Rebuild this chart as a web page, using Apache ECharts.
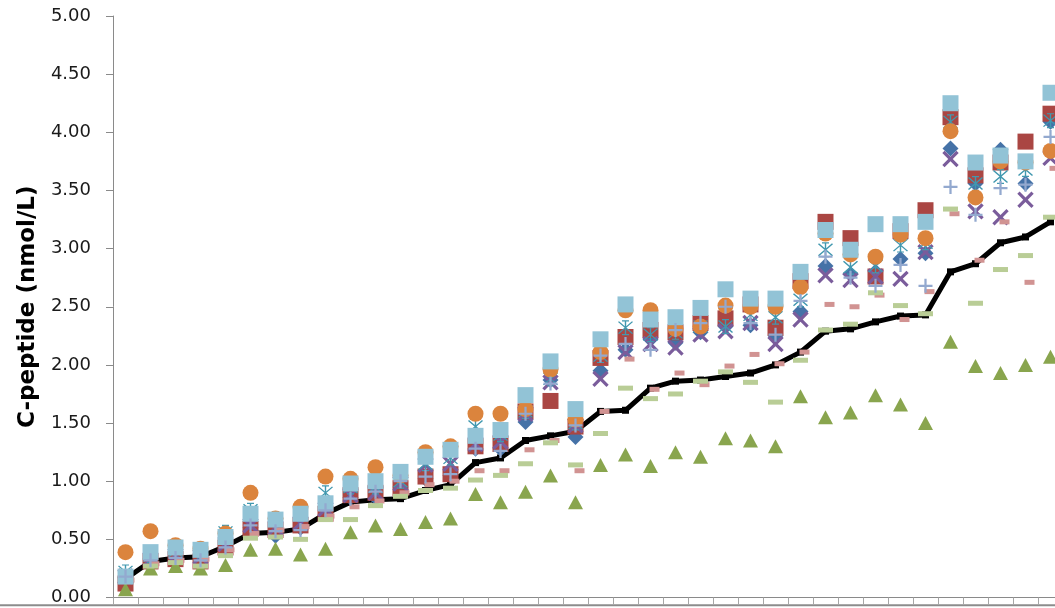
<!DOCTYPE html>
<html>
<head>
<meta charset="utf-8">
<script src="https://cdn.jsdelivr.net/npm/echarts@6/dist/echarts.min.js"></script>
<style>
html, body { margin: 0; padding: 0; background: #fff; overflow: hidden; }
#chart { width: 1063px; height: 608px; }
</style>
</head>
<body>
<div id="chart"></div>
<script>
// categories (x labels are not shown in the picture)
var cats = ['1', '2', '3', '4', '5', '6', '7', '8', '9', '10', '11', '12', '13', '14', '15', '16', '17', '18', '19',
	'20', '21', '22', '23', '24', '25', '26', '27', '28', '29', '30', '31', '32', '33', '34', '35', '36', '37', '38'];

// black line
var lineVals = [0.16, 0.31, 0.34, 0.35, 0.44, 0.55, 0.56, 0.59, 0.72, 0.82, 0.84, 0.85, 0.92, 0.97, 1.16, 1.20, 1.35, 1.39, 1.43,
	1.60, 1.61, 1.80, 1.86, 1.87, 1.90, 1.93, 2.00, 2.11, 2.29, 2.31, 2.37, 2.42, 2.43, 2.80, 2.87, 3.05, 3.10, 3.23];
var diamondVals = [0.17, 0.33, 0.35, 0.34, 0.44, 0.60, 0.53, 0.60, 0.75, 0.86, 0.86, 0.95, 1.02, 1.05, 1.28, 1.28, 1.51, 1.87, 1.38,
	1.95, 2.13, 2.22, 2.19, 2.28, 2.33, 2.34, 2.25, 2.46, 2.85, 2.78, 2.80, 2.91, 2.96, 3.86, 3.56, 3.85, 3.56, 4.09];
var redVals = [0.12, 0.31, 0.33, 0.31, 0.43, 0.59, 0.58, 0.62, 0.72, 0.88, 0.90, 0.94, 1.04, 1.06, 1.30, 1.32, 1.60, 1.69, 1.47,
	2.06, 2.24, 2.30, 2.28, 2.36, 2.40, 2.52, 2.32, 2.72, 3.23, 3.09, 2.76, 3.15, 3.33, 4.13, 3.63, 3.74, 3.92, 4.16];
var triVals = [0.07, 0.25, 0.27, 0.25, 0.28, 0.41, 0.42, 0.37, 0.42, 0.56, 0.62, 0.59, 0.65, 0.68, 0.89, 0.82, 0.91, 1.05, 0.82,
	1.14, 1.23, 1.13, 1.25, 1.21, 1.37, 1.35, 1.30, 1.73, 1.55, 1.59, 1.74, 1.66, 1.50, 2.20, 1.99, 1.93, 2.00, 2.07];
var crossVals = [0.18, 0.33, 0.36, 0.35, 0.46, 0.62, 0.60, 0.64, 0.76, 0.88, 0.90, 0.98, 1.14, 1.15, 1.32, 1.34, 1.58, 1.85, 1.48,
	1.88, 2.11, 2.18, 2.15, 2.26, 2.29, 2.36, 2.18, 2.39, 2.77, 2.73, 2.76, 2.74, 2.97, 3.77, 3.32, 3.27, 3.42, 3.78];
var starVals = [0.22, 0.36, 0.40, 0.40, 0.56, 0.75, 0.68, 0.72, 0.90, 0.95, 0.95, 1.00, 1.15, 1.20, 1.47, 1.40, 1.60, 1.88, 1.50,
	2.08, 2.32, 2.26, 2.28, 2.33, 2.33, 2.43, 2.41, 2.56, 2.99, 2.84, 2.85, 3.03, 3.05, 4.09, 3.56, 3.62, 3.68, 4.10];
var circleVals = [0.39, 0.57, 0.45, 0.42, 0.55, 0.90, 0.68, 0.78, 1.04, 1.02, 1.12, 1.05, 1.25, 1.30, 1.58, 1.58, 1.62, 1.96, 1.53,
	2.11, 2.47, 2.47, 2.31, 2.33, 2.51, 2.50, 2.50, 2.67, 3.13, 2.95, 2.93, 3.12, 3.09, 4.01, 3.44, 3.75, 3.74, 3.84];
var plusVals = [0.18, 0.32, 0.34, 0.32, 0.43, 0.62, 0.57, 0.58, 0.75, 0.85, 0.91, 1.00, 1.04, 1.06, 1.28, 1.26, 1.58, 1.84, 1.48,
	2.08, 2.18, 2.13, 2.30, 2.36, 2.50, 2.36, 2.26, 2.55, 2.93, 2.75, 2.68, 2.86, 2.68, 3.53, 3.29, 3.52, 3.55, 3.96];
var pinkDashVals = [0.15, 0.29, 0.32, 0.33, 0.41, 0.55, 0.58, 0.61, 0.70, 0.78, 0.83, 0.90, 0.97, 1.00, 1.09, 1.09, 1.27, 1.35, 1.09,
	1.60, 2.05, 1.79, 1.93, 1.83, 1.99, 2.09, 2.01, 2.11, 2.52, 2.50, 2.60, 2.39, 2.63, 3.30, 2.90, 3.23, 2.71, 3.69];
var greenDashVals = [0.15, 0.27, 0.30, 0.27, 0.36, 0.51, 0.52, 0.50, 0.67, 0.67, 0.79, 0.87, 0.92, 0.94, 1.01, 1.05, 1.15, 1.33, 1.14,
	1.41, 1.80, 1.71, 1.75, 1.86, 1.94, 1.85, 1.68, 2.04, 2.30, 2.35, 2.62, 2.51, 2.44, 3.34, 2.53, 2.82, 2.94, 3.27];
var blueSquareVals = [0.18, 0.39, 0.43, 0.41, 0.52, 0.72, 0.67, 0.72, 0.81, 0.98, 1.00, 1.08, 1.21, 1.27, 1.39, 1.44, 1.74, 2.03, 1.62,
	2.22, 2.52, 2.39, 2.41, 2.49, 2.65, 2.57, 2.57, 2.80, 3.16, 2.99, 3.21, 3.21, 3.23, 4.25, 3.74, 3.80, 3.75, 4.34];

var yTicks = [0, 0.5, 1, 1.5, 2, 2.5, 3, 3.5, 4, 4.5, 5];

// marker shapes
var plusPath = 'path://M4.2,0H5.8V4.2H10V5.8H5.8V10H4.2V5.8H0V4.2H4.2Z';
var starPath = 'path://M9.2,0L10.8,0L10.8,20L9.2,20Z' +
	'M2.57,1.43L18.57,17.43L17.43,18.57L1.43,2.57Z' +
	'M17.43,1.43L18.57,2.57L2.57,18.57L1.43,17.43Z' +
	'M6,0L14,0L14,1.6L6,1.6Z' +
	'M6,18.4L14,18.4L14,20L6,20Z';

function dots(name, data, symbol, size, color, extra) {
	var s = {
		name: name,
		type: 'scatter',
		z: 3,
		data: data,
		symbol: symbol,
		symbolSize: size,
		itemStyle: {
			color: color,
			opacity: 1
		},
		emphasis: {
			disabled: true
		}
	};
	for (var k in extra) s[k] = extra[k];
	return s;
}

var myChart = echarts.init(document.getElementById('chart'));

var option = {
	animation: false,
	grid: {
		left: 113,
		right: 0,
		top: 16,
		bottom: 10.5
	},
	xAxis: {
		type: 'category',
		data: cats,
		boundaryGap: true,
		axisLine: {
			lineStyle: {
				color: '#8a8a8a'
			}
		},
		axisTick: {
			show: true,
			interval: 0,
			length: 7,
			lineStyle: {
				color: '#a6a6a6'
			}
		},
		axisLabel: {
			show: false
		},
		splitLine: {
			show: false
		}
	},
	yAxis: {
		type: 'value',
		min: yTicks[0],
		max: yTicks[yTicks.length - 1],
		interval: 0.5,
		name: 'C-peptide (nmol/L)',
		nameLocation: 'middle',
		nameGap: 72,
		nameTextStyle: {
			fontFamily: 'DejaVu Sans',
			fontWeight: 'bold',
			fontSize: 23,
			color: '#000'
		},
		axisLine: {
			show: true,
			lineStyle: {
				color: '#8a8a8a'
			}
		},
		axisTick: {
			show: true,
			length: 7,
			lineStyle: {
				color: '#8a8a8a'
			}
		},
		axisLabel: {
			formatter: function(v) {
				return v.toFixed(2);
			},
			fontFamily: 'DejaVu Sans',
			fontSize: 18,
			color: '#1a1a1a',
			margin: 22
		},
		splitLine: {
			show: false
		}
	},
	graphic: [{
		type: 'line',
		shape: {
			x1: 0,
			y1: 605.3,
			x2: 1063,
			y2: 605.3
		},
		style: {
			stroke: '#8c8c8c',
			lineWidth: 2
		}
	}],
	series: [{
			name: 'line',
			type: 'line',
			z: 2,
			data: lineVals,
			symbol: 'rect',
			symbolSize: 7,
			showSymbol: true,
			lineStyle: {
				color: '#000',
				width: 5
			},
			itemStyle: {
				color: '#000'
			}
		},
		dots('s1', diamondVals, 'diamond', 16, '#4572A7'),
		dots('s2', redVals, 'rect', 16, '#AA4643'),
		dots('s3', triVals, 'triangle', [15, 14], '#89A54E'),
		dots('s4', crossVals, plusPath, 20, '#7A5C9B', {
			symbolRotate: 45
		}),
		dots('s5', starVals, starPath, 15, '#4198AF'),
		dots('s6', circleVals, 'circle', 16, '#DB843D'),
		dots('s8', pinkDashVals, 'rect', [10, 5], '#D19392', {
			symbolOffset: [4, 0]
		}),
		dots('s9', greenDashVals, 'rect', [15, 5], '#B9CD96'),
		dots('s10', blueSquareVals, 'rect', 16, '#92C3D6'),
		dots('s7', plusVals, plusPath, 14, '#93A9CF')
	]
};

myChart.setOption(option);
</script>
</body>
</html>
